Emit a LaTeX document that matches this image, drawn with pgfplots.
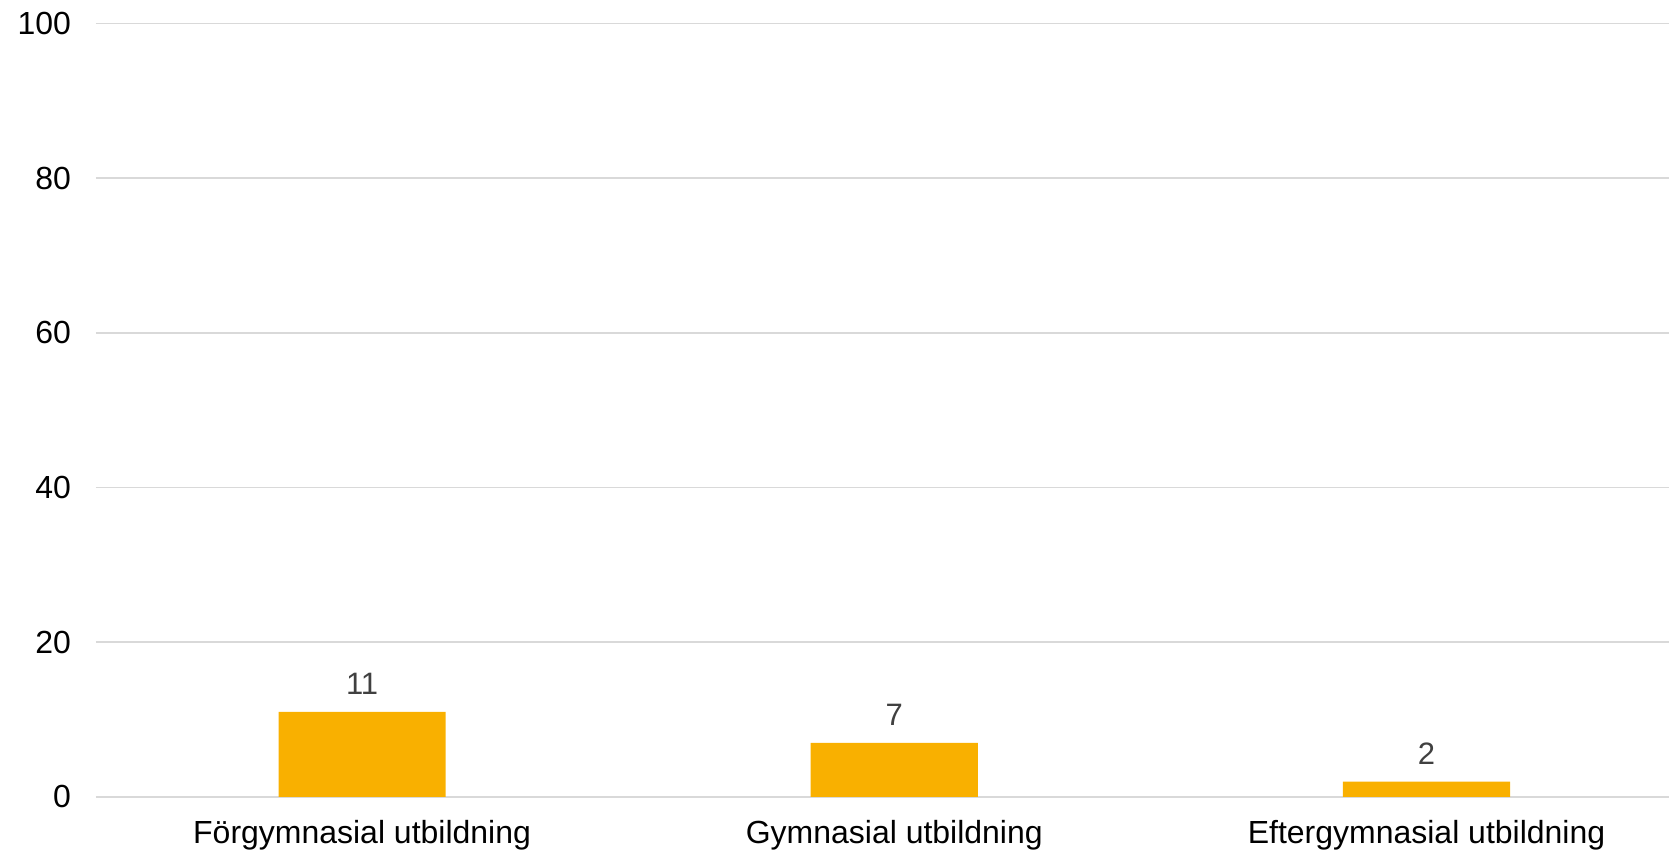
\documentclass[border=0pt]{standalone}
\usepackage{pgfplots}
\pgfplotsset{compat=1.18}
\usepackage{fontspec}
\setmainfont{Liberation Sans}
\definecolor{barc}{HTML}{F9B000}
\definecolor{gridc}{HTML}{D9D9D9}
\definecolor{lblc}{HTML}{404040}
\begin{document}
\begin{tikzpicture}
\begin{axis}[
  scale only axis,
  width=787pt, height=387pt,
  xmin=-0.5, xmax=2.456,
  ymin=0, ymax=100,
  ytick={0,20,40,60,80,100},
  xtick={0,1,2},
  xticklabels={Förgymnasial utbildning, Gymnasial utbildning, Eftergymnasial utbildning},
  axis line style={draw=none},
  major tick length=0pt,
  ymajorgrids,
  grid style={gridc, line width=0.8pt},
  tick label style={font=\fontsize{16}{19}\selectfont, text=black},
  yticklabel style={xshift=-9pt},
  xticklabel style={inner sep=0pt, yshift=-11.5pt},
  /pgf/number format/assume math mode=true,
  clip=false,
]
\path (rel axis cs:-0.061,-0.0727) rectangle (rel axis cs:1,1.0302);
\addplot[ybar, bar width=83.6pt, fill=barc, draw=none,
  nodes near coords,
  every node near coord/.append style={font=\fontsize{15.5}{18}\selectfont, text=lblc, yshift=5pt}]
  coordinates {(0,11) (1,7) (2,2)};
\end{axis}
\end{tikzpicture}
\end{document}
